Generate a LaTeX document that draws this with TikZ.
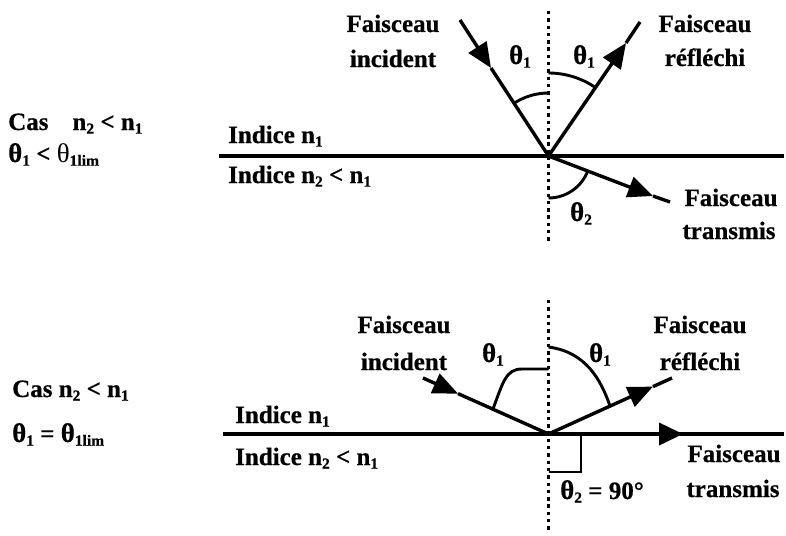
\documentclass[tikz,border=0pt]{standalone}
\usepackage{fontspec}
\setmainfont{Liberation Serif}[BoldFeatures={FakeBold=0.6}]
\usetikzlibrary{arrows.meta}
\newcommand{\subs}[1]{\raisebox{-3.7pt}{\fontsize{15.5}{15.5}\selectfont #1}}
\newcommand{\thet}{{\fontsize{27}{27}\selectfont θ}}
\begin{document}
\begin{tikzpicture}[x=1pt,y=1pt,
  lbl/.style={font=\fontsize{25}{25}\selectfont\bfseries, inner sep=0pt, anchor=base},
  lblw/.style={lbl, anchor=base west},
  ray/.style={line width=3.4pt},
  arr/.style={line width=3.4pt, -{Triangle[length=25pt,width=21pt]}},
  iface/.style={line width=3.9pt},
  normal/.style={line width=3.6pt, dash pattern=on 3.4pt off 3.9pt},
  angarc/.style={line width=2.9pt}]
\useasboundingbox (0,0) rectangle (786,-535);

% ================= TOP DIAGRAM =================
\coordinate (O1) at (548.5,-156);
\coordinate (IfL1) at (219,-156);
\coordinate (IfR1) at (784,-156);
\coordinate (Nt1) at (548.5,-11);
\coordinate (Nb1) at (548.5,-244);
\coordinate (A1) at (460,-20);
\coordinate (TA1) at (491,-68);
\coordinate (R1) at (640,-22);
\coordinate (TR1) at (626,-43);
\coordinate (S1) at (670,-202);
\coordinate (TS1) at (653,-196);

\draw[normal] (Nt1) -- (Nb1);
\draw[iface] (IfL1) -- (IfR1);
\draw[arr] (A1) -- (TA1);
\draw[ray] (TA1) -- (O1);
\draw[arr] (O1) -- (TR1);
\draw[ray] (TR1) -- (R1);
\draw[arr] (O1) -- (TS1);
\draw[ray] (TS1) -- (S1);

\draw[angarc] ([shift={(90:63)}]O1) arc[start angle=90,end angle=123,radius=63pt];
\draw[angarc] ([shift={(90:83)}]O1) arc[start angle=90,end angle=55.5,radius=83pt];
\draw[angarc] ([shift={(-90:42)}]O1) arc[start angle=-90,end angle=-20.7,radius=42pt];

\node[lbl] (fi1) at (393,-32) {Faisceau};
\node[lbl] (ii1) at (393,-67) {incident};
\node[lbl] (t1l) at (520,-64) {\thet\subs{1}};
\node[lbl] (t1r) at (584,-64) {\thet\subs{1}};
\node[lbl] (fr1) at (705,-32) {Faisceau};
\node[lbl] (rr1) at (705,-66) {réfléchi};
\node[lbl] (t21) at (581,-221) {\thet\subs{2}};
\node[lbl] (ft1) at (731,-206) {Faisceau};
\node[lbl] (tt1) at (729,-239) {transmis};
\node[lblw] (in1) at (228,-143) {Indice n\subs{1}};
\node[lblw] (in21) at (228,-183) {Indice n\subs{2} < n\subs{1}};
\node[lblw] (cas1) at (8,-130) {Cas\hspace{24pt}n\subs{2} < n\subs{1}};
\node[lblw] (cond1) at (8,-162) {\thet\subs{1} < {\mdseries\thet}\subs{1lim}};

% ================= BOTTOM DIAGRAM =================
\coordinate (O2) at (548.5,-434);
\coordinate (IfL2) at (223,-434);
\coordinate (IfR2) at (784,-434);
\coordinate (Nt2) at (548.5,-300);
\coordinate (Nb2) at (548.5,-532);
\coordinate (A2) at (423,-378);
\coordinate (TA2) at (458,-393.6);
\coordinate (R2) at (672,-378);
\coordinate (TR2) at (653,-386.6);
\coordinate (TS2) at (683,-434);

\draw[normal] (Nt2) -- (Nb2);
\draw[iface] (IfL2) -- (IfR2);
\draw[line width=3.9pt, -{Triangle[length=24pt,width=22pt]}] (O2) -- (TS2);
\draw[arr] (A2) -- (TA2);
\draw[ray] (TA2) -- (O2);
\draw[arr] (O2) -- (TR2);
\draw[ray] (TR2) -- (R2);

\draw[angarc] (493,-409) .. controls (503,-382) and (506,-369) .. (522,-369) -- (548.5,-369);
\draw[angarc] (548.5,-347) .. controls (586,-352) and (601,-380) .. (610,-406);
\draw[angarc] (548.5,-472) -- (581,-472) -- (581,-434);

\node[lbl] (fi2) at (404,-333) {Faisceau};
\node[lbl] (ii2) at (404,-370) {incident};
\node[lbl] (t1l2) at (493,-362) {\thet\subs{1}};
\node[lbl] (t1r2) at (600,-362) {\thet\subs{1}};
\node[lbl] (fr2) at (700,-333) {Faisceau};
\node[lbl] (rr2) at (700,-370) {réfléchi};
\node[lbl] (ft2) at (734,-462) {Faisceau};
\node[lbl] (tt2) at (733,-497) {transmis};
\node[lblw] (t22) at (560,-499) {\thet\subs{2} = 90°};
\node[lblw] (in2) at (235,-423) {Indice n\subs{1}};
\node[lblw] (in22) at (235,-465) {Indice n\subs{2} < n\subs{1}};
\node[lblw] (cas2) at (12,-397) {Cas n\subs{2} < n\subs{1}};
\node[lblw] (cond2) at (12,-442) {\thet\subs{1} = \thet\subs{1lim}};
\end{tikzpicture}
\end{document}
